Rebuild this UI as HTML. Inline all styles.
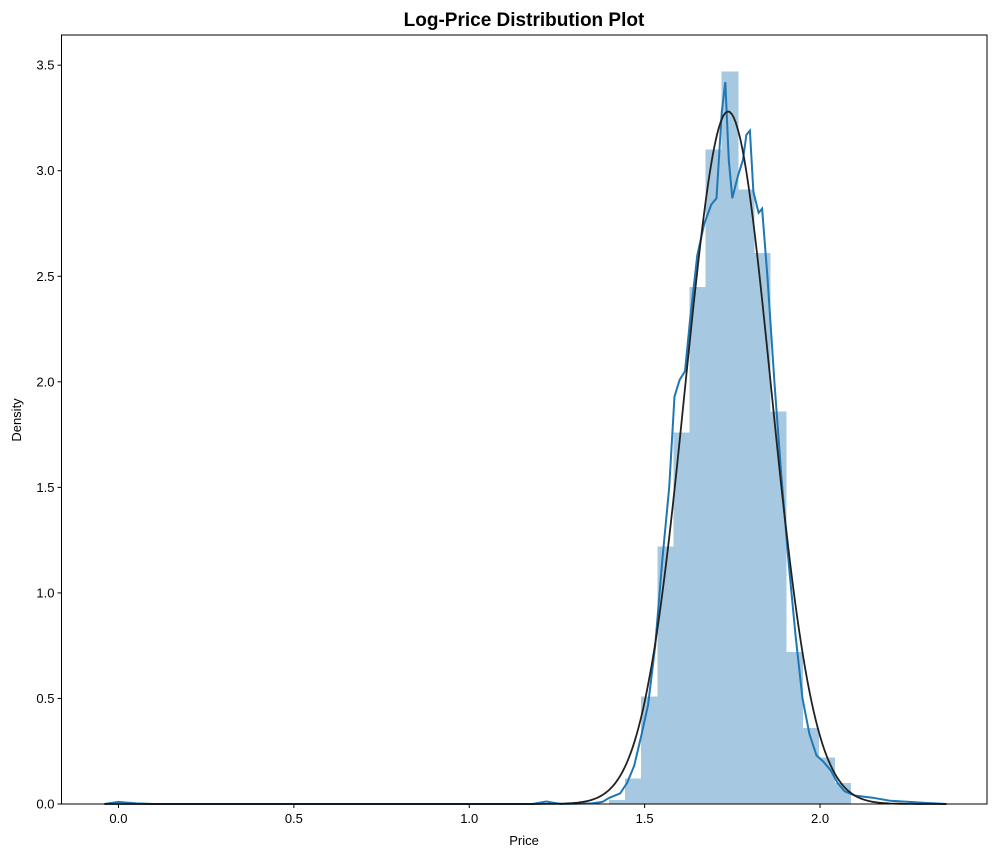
<!DOCTYPE html>
<html><head><meta charset="utf-8"><style>
body{margin:0;background:#fff}
svg text{font-family:"Liberation Sans","DejaVu Sans",sans-serif}
</style></head><body>
<svg id="c" width="1001" height="857" xmlns="http://www.w3.org/2000/svg">
<rect width="1001" height="857" fill="#fff"/>
<text x="524" y="26" text-anchor="middle" font-size="19" font-weight="bold">Log-Price Distribution Plot</text>
<g id="plot"></g>
<text x="524" y="845" text-anchor="middle" font-size="13">Price</text>
<text transform="translate(21,420) rotate(-90)" text-anchor="middle" font-size="13">Density</text>
</svg>
<script>
const binStart = 1.3985;
const binWidth = 0.0459;
const binDensity = [0.02,0.12,0.51,1.22,1.76,2.45,3.10,3.47,2.91,2.61,1.86,0.72,0.36,0.22,0.10];
const kdeX = [-0.04,0.0,0.05,0.1,0.5,1.0,1.18,1.22,1.26,1.35,1.38,1.40,1.43,1.45,1.47,1.49,1.51,1.53,1.55,1.57,1.585,1.6,1.615,1.63,1.65,1.67,1.69,1.705,1.72,1.73,1.74,1.75,1.765,1.78,1.79,1.80,1.81,1.825,1.835,1.85,1.87,1.89,1.91,1.93,1.95,1.97,1.99,2.01,2.03,2.05,2.07,2.1,2.15,2.2,2.3,2.36];
const kdeY = [0,0.01,0.003,0,0,0,0,0.012,0,0.003,0.01,0.03,0.05,0.1,0.18,0.32,0.47,0.75,1.15,1.5,1.93,2.01,2.05,2.3,2.6,2.75,2.84,2.87,3.28,3.42,3.05,2.87,2.97,3.05,3.17,3.19,2.9,2.8,2.82,2.5,2.0,1.55,1.15,0.8,0.5,0.33,0.23,0.2,0.16,0.1,0.06,0.04,0.03,0.015,0.005,0];
const fitMean = 1.738;
const fitSigma = 0.1216;
const xTicks = [0.0,0.5,1.0,1.5,2.0];
const yTicks = [0.0,0.5,1.0,1.5,2.0,2.5,3.0,3.5];

const L=61.5,R=987,T=35,B=804;
const xMin=-0.1624,xMax=2.476,yMin=0,yMax=3.643;
const sx=v=>L+(v-xMin)/(xMax-xMin)*(R-L);
const sy=v=>B-(v-yMin)/(yMax-yMin)*(B-T);
const NS='http://www.w3.org/2000/svg';
const g=document.getElementById('plot');
function mk(t,a,p){const e=document.createElementNS(NS,t);for(const k in a)e.setAttribute(k,a[k]);(p||g).appendChild(e);return e;}

binDensity.forEach((d,i)=>{
  const x0=binStart+i*binWidth;
  const r=mk('rect',{x:sx(x0),y:sy(d),width:sx(x0+binWidth)-sx(x0)+0.6,height:sy(0)-sy(d),fill:'#a6c8e0','shape-rendering':'crispEdges'});
  
  
});
let p='';
kdeX.forEach((x,i)=>{p+=(i?'L':'M')+sx(x).toFixed(1)+','+sy(kdeY[i]).toFixed(1);});
const kde=mk('path',{d:p,fill:'none',stroke:'#1f77b4','stroke-width':2});


let q='';
for(let i=0;i<=400;i++){const x=-0.04+i*(2.40/400);const y=Math.exp(-0.5*((x-fitMean)/fitSigma)**2)/(fitSigma*Math.sqrt(2*Math.PI));q+=(i?'L':'M')+sx(x).toFixed(1)+','+sy(y).toFixed(1);}
const fit=mk('path',{d:q,fill:'none',stroke:'#222','stroke-width':1.8});


const fr=mk('rect',{x:L,y:T,width:R-L,height:B-T,fill:'none',stroke:'#000','stroke-width':1});


xTicks.forEach(v=>{
  mk('line',{x1:sx(v),x2:sx(v),y1:B,y2:B+4,stroke:'#000'});
  const t=mk('text',{x:sx(v),y:B+19,'text-anchor':'middle','font-size':13});
  t.textContent=v.toFixed(1);
  
  
});
yTicks.forEach(v=>{
  mk('line',{x1:L-4,x2:L,y1:sy(v),y2:sy(v),stroke:'#000'});
  const t=mk('text',{x:L-7,y:sy(v)+4.5,'text-anchor':'end','font-size':13});
  t.textContent=v.toFixed(1);
  
  
});
</script>
</body></html>
